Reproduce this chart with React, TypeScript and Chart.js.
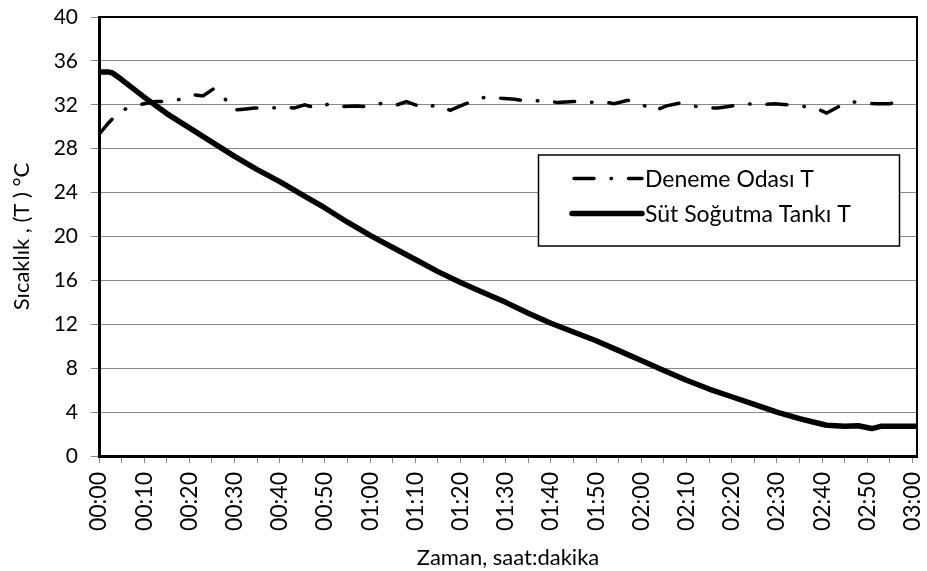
import React, { useEffect, useRef } from "react";
import { Chart, registerables } from "chart.js";

Chart.register(...registerables);

// ---- data (minutes since start, temperature °C) ----
const tankMinutes = [0, 2, 3, 5, 10, 13, 15, 20, 25, 30, 35, 40, 45, 50, 55, 60, 65, 70, 75, 80, 85, 90, 95, 100, 105, 110, 115, 120, 125, 130, 135, 140, 145, 150, 155, 158, 161, 165, 168, 171, 173, 176, 181];
const tankValues = [35.0, 35.0, 34.9, 34.3, 32.7, 31.8, 31.2, 29.9, 28.6, 27.3, 26.1, 25.0, 23.8, 22.6, 21.3, 20.1, 19.0, 17.9, 16.8, 15.8, 14.9, 14.0, 13.0, 12.1, 11.3, 10.5, 9.6, 8.7, 7.8, 6.9, 6.1, 5.4, 4.7, 4.0, 3.4, 3.1, 2.8, 2.7, 2.75, 2.5, 2.7, 2.7, 2.7];

const roomMinutes = [0, 2, 4.5, 7, 10, 12.5, 15, 18, 21, 23, 25.5, 27.8, 29.6, 32, 34.5, 38, 41, 43.2, 45.5, 48, 51, 54, 57, 60, 63, 66, 68, 70, 72, 74.7, 77.7, 80, 83, 86, 89, 92, 95, 98.4, 101.5, 105, 108, 111, 114, 117, 120, 122.6, 125.6, 128.5, 131.4, 134.3, 137, 140, 143, 146.7, 149.5, 152.5, 155.7, 158, 161, 163.5, 166, 169.6, 172, 175, 178.6];
const roomValues = [29.3, 30.3, 31.4, 31.8, 32.1, 32.3, 32.3, 32.5, 32.9, 32.8, 33.5, 32.6, 31.5, 31.6, 31.7, 31.7, 31.8, 31.7, 32.0, 31.7, 32.1, 31.85, 31.9, 31.8, 32.2, 32.0, 32.3, 32.0, 31.7, 32.0, 31.5, 31.9, 32.4, 32.75, 32.6, 32.5, 32.3, 32.4, 32.2, 32.3, 32.2, 32.3, 32.1, 32.4, 32.1, 31.4, 31.9, 32.15, 31.9, 31.7, 31.7, 31.9, 32.1, 32.0, 32.1, 32.0, 31.85, 31.8, 31.25, 31.8, 32.3, 32.15, 32.1, 32.1, 32.45];

const xTickValues = [0, 5, 10, 15, 20, 25, 30, 35, 40, 45, 50, 55, 60, 65, 70, 75, 80, 85, 90, 95, 100, 105, 110, 115, 120, 125, 130, 135, 140, 145, 150, 155, 160, 165, 170, 175, 180];
const xTickLabels = ["00:00", "00:10", "00:20", "00:30", "00:40", "00:50", "01:00", "01:10", "01:20", "01:30", "01:40", "01:50", "02:00", "02:10", "02:20", "02:30", "02:40", "02:50", "03:00"];

const seriesNames = ["Deneme Odası T", "Süt Soğutma Tankı T"];

const FONT = "Lato, 'Noto Sans', sans-serif";
const ROOM_DASH = [20, 17, 0.5, 17];

const frameAndLegend = {
  id: "frameAndLegend",
  afterDraw(chart: any) {
    const { ctx, chartArea } = chart;
    const { left, top, right, bottom } = chartArea;
    ctx.save();
    ctx.strokeStyle = "#000";
    ctx.lineWidth = 2;
    ctx.beginPath();
    ctx.moveTo(left, top);
    ctx.lineTo(right, top);
    ctx.lineTo(right, bottom);
    ctx.stroke();

    const bx = 538.5, by = 155, bw = 361, bh = 91;
    ctx.fillStyle = "#fff";
    ctx.fillRect(bx, by, bw, bh);
    ctx.lineWidth = 1.5;
    ctx.strokeRect(bx, by, bw, bh);

    const ds = chart.data.datasets;
    const rows = [178.5, 213.5];
    ds.forEach((d: any, i: number) => {
      const y = rows[i];
      ctx.save();
      ctx.strokeStyle = "#000";
      ctx.lineWidth = d.borderWidth;
      ctx.lineCap = d.borderCapStyle || "butt";
      ctx.setLineDash(d.borderDash || []);
      ctx.beginPath();
      ctx.moveTo(i === 0 ? 574 : 572, y);
      ctx.lineTo(642, y);
      ctx.stroke();
      ctx.restore();
      ctx.fillStyle = "#000";
      ctx.font = `23px ${FONT}`;
      ctx.textBaseline = "middle";
      ctx.textAlign = "left";
      ctx.fillText(d.label, 645, y + 1);
    });
    ctx.restore();
  },
};

export default function App() {
  const ref = useRef<HTMLCanvasElement | null>(null);

  useEffect(() => {
    document.body.style.margin = "0";
    if (!ref.current) return;
    Chart.defaults.font.family = FONT;
    Chart.defaults.color = "#000";
    const chart = new Chart(ref.current, {
      type: "line",
      data: {
        datasets: [
          {
            label: seriesNames[0],
            data: roomMinutes.map((m, i) => ({ x: m, y: roomValues[i] })),
            borderColor: "#000",
            borderWidth: 3.5,
            borderDash: ROOM_DASH,
            borderCapStyle: "round",
            pointRadius: 0,
            tension: 0,
            fill: false,
          },
          {
            label: seriesNames[1],
            data: tankMinutes.map((m, i) => ({ x: m, y: tankValues[i] })),
            borderColor: "#000",
            borderWidth: 5.5,
            borderCapStyle: "round",
            borderJoinStyle: "round",
            pointRadius: 0,
            tension: 0,
            fill: false,
          },
        ],
      },
      options: {
        responsive: false,
        animation: false,
        layout: { padding: { left: 0, right: 10, top: 17, bottom: 0 } },
        plugins: {
          legend: { display: false },
          tooltip: { enabled: false },
        },
        scales: {
          x: {
            type: "linear",
            min: 0,
            max: 181,
            afterBuildTicks: (scale: any) => {
              scale.ticks = xTickValues.map((v) => ({ value: v }));
            },
            afterFit: (scale: any) => {
              scale.height = 115;
              scale.paddingLeft = 0;
              scale.paddingRight = 0;
            },
            ticks: {
              autoSkip: false,
              minRotation: 90,
              maxRotation: 90,
              padding: 9,
              font: { size: 23, family: FONT, lineHeight: 1 },
              color: "#000",
              callback: (v: any) => {
                const n = Number(v);
                return n % 10 === 0 ? xTickLabels[n / 10] : "";
              },
            },
            grid: {
              drawOnChartArea: false,
              drawTicks: true,
              tickLength: 7,
              color: "#888",
              lineWidth: 1,
            },
            border: { color: "#000", width: 3 },
            title: {
              display: true,
              text: "Zaman, saat:dakika",
              font: { size: 22, family: FONT, lineHeight: 1.2 },
              color: "#000",
              padding: { top: 0, bottom: 0 },
            },
          },
          y: {
            min: 0,
            max: 40,
            afterFit: (scale: any) => {
              scale.width = 99;
              scale.paddingTop = 0;
              scale.paddingBottom = 0;
            },
            ticks: {
              stepSize: 4,
              padding: 13,
              font: { size: 21, family: FONT },
              color: "#000",
            },
            grid: {
              color: "#888",
              lineWidth: 1,
              tickLength: 8,
            },
            border: { color: "#000", width: 3 },
            title: {
              display: true,
              text: "Sıcaklık , (T ) °C",
              font: { size: 22, family: FONT, lineHeight: 1.2 },
              color: "#000",
              padding: { top: 9, bottom: 0 },
            },
          },
        },
      },
      plugins: [frameAndLegend],
    } as any);
    return () => chart.destroy();
  }, []);

  return (
    <div style={{ position: "fixed", left: 0, top: 0, width: 927, height: 571, background: "#fff" }}>
      <canvas ref={ref} width={927} height={571} style={{ width: 927, height: 571 }} />
    </div>
  );
}
